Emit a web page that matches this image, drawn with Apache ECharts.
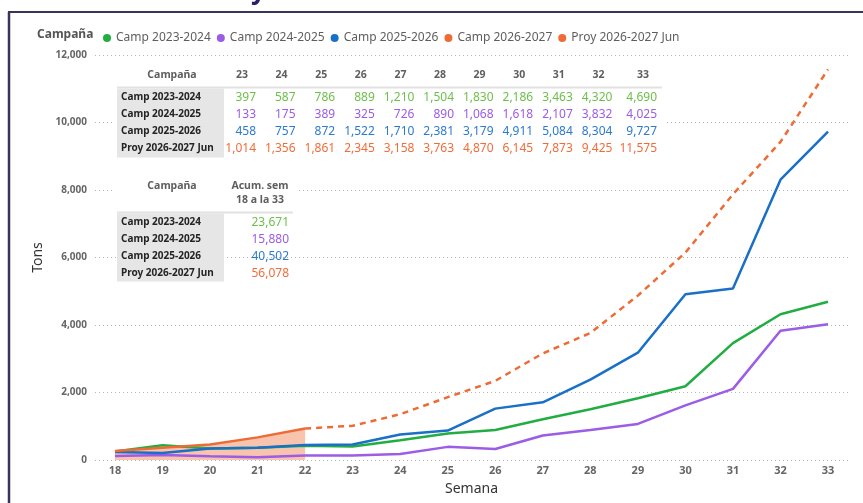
<!DOCTYPE html>
<html>
<head>
<meta charset="utf-8">
<script src="https://cdn.jsdelivr.net/npm/echarts@6/dist/echarts.min.js"></script>
<style>
html,body{margin:0;padding:0;background:#fff;}
#chart{width:863px;height:503px;}
</style>
</head>
<body>
<div id="chart"></div>
<script>
// ---- data ----
var weeks = [18,19,20,21,22,23,24,25,26,27,28,29,30,31,32,33];
var seriesNames = ['Camp 2023-2024','Camp 2024-2025','Camp 2025-2026','Camp 2026-2027','Proy 2026-2027 Jun'];
var camp2023 = [250,440,340,360,419,397,587,786,889,1210,1504,1830,2186,3463,4320,4690];
var camp2024 = [120,150,110,82,130,133,175,389,325,726,890,1068,1618,2107,3832,4025];
var camp2025 = [240,210,340,360,447,458,757,872,1522,1710,2381,3179,4911,5084,8304,9727];
var camp2026 = [270,360,460,670,933,null,null,null,null,null,null,null,null,null,null,null];
var proy2026 = [null,null,null,null,933,1014,1356,1861,2345,3158,3763,4870,6145,7873,9425,11575];
var tableWeeks = [23,24,25,26,27,28,29,30,31,32,33];
var tableRows = ['Camp 2023-2024','Camp 2024-2025','Camp 2025-2026','Proy 2026-2027 Jun'];
var yTicks = [0,2000,4000,6000,8000,10000,12000];

// ---- styles ----
var lineColors = ['#22ad43','#9b5ce6','#1a6fc6','#ee6b35','#ee6b35'];
var textColors = ['#6dbf4b','#9b5ce6','#2a7ad0','#f26c3a'];
var FONT = '"Noto Sans", "Open Sans", sans-serif';

function pairs(arr){ return weeks.map(function(w,i){ return [w, arr[i]]; }); }
function fmt(v){ return v.toLocaleString('en-US'); }

var rowData = [camp2023, camp2024, camp2025, proy2026];
var acum = [
  camp2023.reduce(function(a,b){return a+b;},0),
  camp2024.reduce(function(a,b){return a+b;},0),
  camp2025.reduce(function(a,b){return a+b;},0),
  weeks.reduce(function(a,w,i){ return a + (proy2026[i] != null ? proy2026[i] : camp2026[i]); },0)
];

var graphics = [];
// title fragment (cropped) and card borders
graphics.push({type:'text', x:251, y:5, style:{text:'y', font:'bold 26px '+FONT, fill:'#2b1f6b', textVerticalAlign:'bottom'}, z:5});
graphics.push({type:'rect', shape:{x:0,y:11,width:863,height:492}, style:{fill:'#fff'}, z:6});
graphics.push({type:'line', shape:{x1:8,y1:12,x2:863,y2:12}, style:{stroke:'#3b3458', lineWidth:2}, z:10});
graphics.push({type:'line', shape:{x1:9,y1:12,x2:9,y2:503}, style:{stroke:'#3b3458', lineWidth:2.5}, z:10});
// legend title
graphics.push({type:'text', x:37, y:35, style:{text:'Campaña', font:'bold 12px '+FONT, fill:'#555', textVerticalAlign:'middle'}, z:10});

// table 1
graphics.push({type:'rect', shape:{x:115,y:62,width:552,height:97}, style:{fill:'#fff'}, z:20});
graphics.push({type:'text', x:172, y:75, style:{text:'Campaña', font:'bold 10.5px '+FONT, fill:'#605e5c', textAlign:'center', textVerticalAlign:'middle'}, z:21});
graphics.push({type:'line', shape:{x1:117,y1:87.5,x2:662,y2:87.5}, style:{stroke:'#e2e2e2', lineWidth:2}, z:21});
graphics.push({type:'rect', shape:{x:117,y:88.5,width:107,height:69}, style:{fill:'#e6e6e6'}, z:21});
var rowsY1 = [97.5,114.5,131.5,148.5];
tableWeeks.forEach(function(w,i){
  var right = 256 + i*39.6 + (i === tableWeeks.length-1 ? 5 : 0);
  graphics.push({type:'text', x:right-14, y:75, style:{text:String(w), font:'bold 10.5px '+FONT, fill:'#605e5c', textAlign:'center', textVerticalAlign:'middle'}, z:22});
  rowData.forEach(function(arr,r){
    var v = arr[weeks.indexOf(w)];
    graphics.push({type:'text', x:right, y:rowsY1[r], style:{text:fmt(v), font:'12px '+FONT, fill:textColors[r], textAlign:'right', textVerticalAlign:'middle'}, z:22});
  });
});
tableRows.forEach(function(name,r){
  graphics.push({type:'text', x:121, y:rowsY1[r], style:{text:name, font:'bold 10px '+FONT, fill:'#252423', textAlign:'left', textVerticalAlign:'middle'}, z:22});
});

// table 2
graphics.push({type:'rect', shape:{x:115,y:172,width:182,height:40}, style:{fill:'#fff'}, z:20});
graphics.push({type:'text', x:172, y:186, style:{text:'Campaña', font:'bold 10.5px '+FONT, fill:'#605e5c', textAlign:'center', textVerticalAlign:'middle'}, z:21});
graphics.push({type:'text', x:260, y:186, style:{text:'Acum. sem', font:'bold 10.5px '+FONT, fill:'#605e5c', textAlign:'center', textVerticalAlign:'middle'}, z:21});
graphics.push({type:'text', x:260, y:200, style:{text:'18 a la 33', font:'bold 10.5px '+FONT, fill:'#605e5c', textAlign:'center', textVerticalAlign:'middle'}, z:21});
graphics.push({type:'line', shape:{x1:117,y1:212.5,x2:293,y2:212.5}, style:{stroke:'#e2e2e2', lineWidth:2}, z:21});
graphics.push({type:'rect', shape:{x:117,y:213.5,width:107,height:68}, style:{fill:'#e6e6e6'}, z:21});
var rowsY2 = [222.5,239.5,256.5,273.5];
tableRows.forEach(function(name,r){
  graphics.push({type:'text', x:121, y:rowsY2[r], style:{text:name, font:'bold 10px '+FONT, fill:'#252423', textAlign:'left', textVerticalAlign:'middle'}, z:22});
  graphics.push({type:'text', x:289, y:rowsY2[r], style:{text:fmt(acum[r]), font:'12px '+FONT, fill:textColors[r], textAlign:'right', textVerticalAlign:'middle'}, z:22});
});

var chart = echarts.init(document.getElementById('chart'), null, {renderer:'canvas'});
chart.setOption({
  animation:false,
  textStyle:{fontFamily:FONT},
  legend:{
    left:98, top:27, icon:'circle', itemWidth:8, itemHeight:8, itemGap:6, z:12,
    data:seriesNames,
    textStyle:{color:'#605e5c', fontSize:12, fontFamily:FONT}
  },
  grid:{left:95, right:15, top:55, bottom:43, containLabel:false, outerBoundsMode:'none'},
  xAxis:{
    type:'value', min:17.58, max:33.42, z:12,
    name:'Semana', nameLocation:'middle', nameGap:22,
    nameTextStyle:{color:'#333', fontSize:14, fontFamily:FONT},
    axisLine:{show:false}, axisTick:{show:false}, splitLine:{show:false},
    axisLabel:{customValues:weeks, color:'#666', fontSize:11, fontWeight:'bold', margin:5, fontFamily:FONT}
  },
  yAxis:{
    type:'value', min:yTicks[0], max:yTicks[yTicks.length-1], interval:2000, z:12,
    name:'Tons', nameLocation:'middle', nameGap:42,
    nameTextStyle:{color:'#333', fontSize:14, fontFamily:FONT},
    axisLine:{show:false}, axisTick:{show:false},
    axisLabel:{color:'#666', fontSize:10, fontWeight:'bold', margin:8, fontFamily:FONT,
      formatter:function(v){ return v.toLocaleString('en-US'); }},
    splitLine:{lineStyle:{color:'#b5b5b5', type:[1,3], width:1}}
  },
  graphic:graphics,
  series:[
    {name:seriesNames[3], type:'line', data:pairs(camp2026), showSymbol:false, z:13,
      itemStyle:{color:lineColors[3]}, lineStyle:{width:0},
      areaStyle:{color:lineColors[3], opacity:0.4}},
    {name:seriesNames[0], type:'line', data:pairs(camp2023), showSymbol:false, z:14,
      itemStyle:{color:lineColors[0]}, lineStyle:{width:2.5, color:lineColors[0]}},
    {name:seriesNames[1], type:'line', data:pairs(camp2024), showSymbol:false, z:14,
      itemStyle:{color:lineColors[1]}, lineStyle:{width:2.5, color:lineColors[1]}},
    {name:seriesNames[2], type:'line', data:pairs(camp2025), showSymbol:false, z:14,
      itemStyle:{color:lineColors[2]}, lineStyle:{width:2.5, color:lineColors[2]}},
    {name:seriesNames[3], type:'line', data:pairs(camp2026), showSymbol:false, z:15,
      itemStyle:{color:lineColors[3]}, lineStyle:{width:2.5, color:lineColors[3]}},
    {name:seriesNames[4], type:'line', data:pairs(proy2026), showSymbol:false, z:15,
      itemStyle:{color:lineColors[4]}, lineStyle:{width:2.5, color:lineColors[4], type:[6,5]}}
  ]
});
</script>
</body>
</html>
